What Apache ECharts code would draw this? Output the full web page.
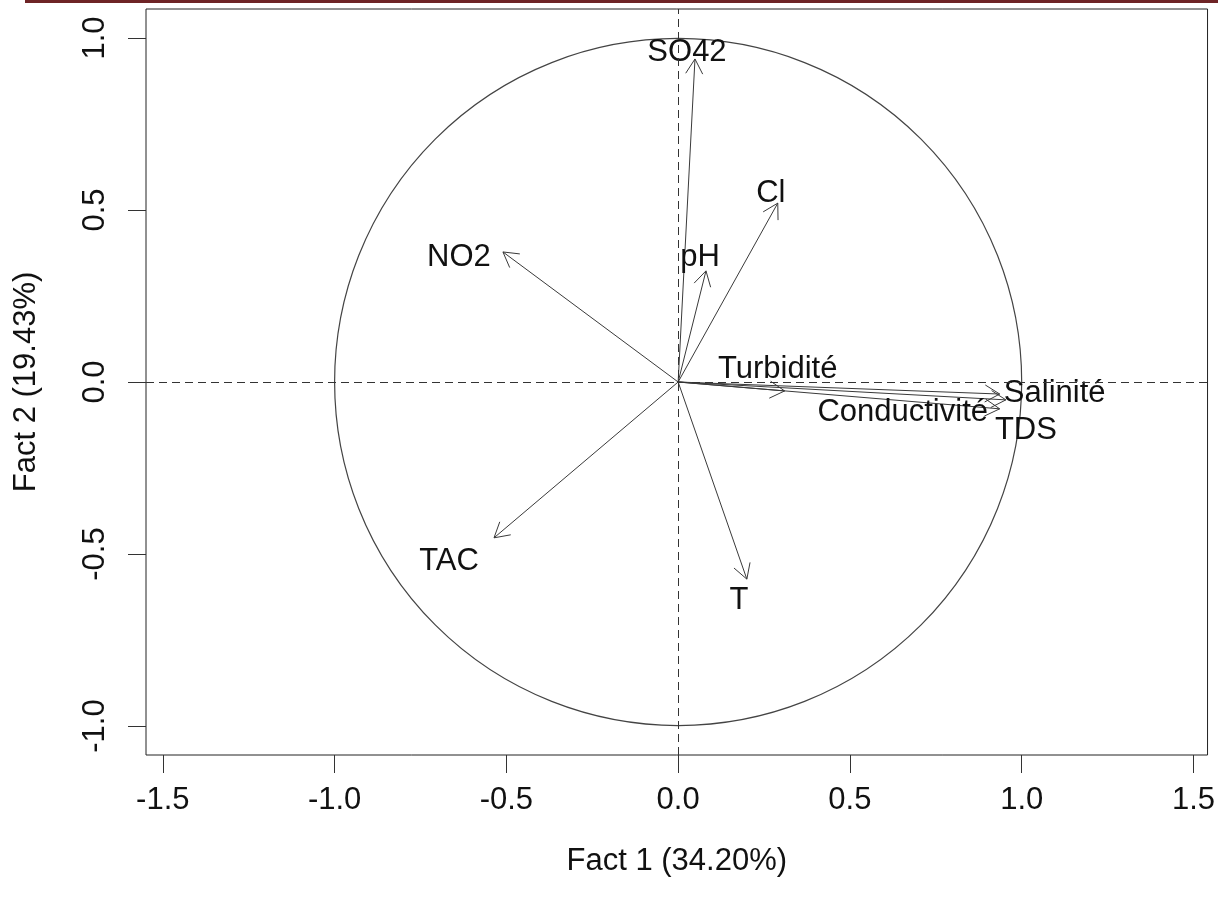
<!DOCTYPE html>
<html>
<head>
<meta charset="utf-8">
<title>Cercle des corrélations</title>
<script src="https://cdn.jsdelivr.net/npm/echarts@6/dist/echarts.min.js"></script>
<style>
  html, body { margin: 0; padding: 0; background: #fff; }
  #chart { width: 1218px; height: 908px; }
</style>
</head>
<body>
<div id="chart"></div>
<script>
// Variable loadings on the first two factors
const variables = ['SO42', 'Cl', 'pH', 'NO2', 'Turbidité', 'Salinité', 'TDS', 'Conductivité', 'TAC', 'T'];
const fact1 = [0.049, 0.290, 0.081, -0.510, 0.310, 0.936, 0.954, 0.936, -0.536, 0.200];
const fact2 = [0.939, 0.520, 0.323, 0.378, -0.026, -0.035, -0.052, -0.078, -0.453, -0.573];

// Tick positions on both axes
const xTicks = [-1.5, -1.0, -0.5, 0.0, 0.5, 1.0, 1.5];
const yTicks = [-1.0, -0.5, 0.0, 0.5, 1.0];

// Axis titles
const xTitle = 'Fact 1 (34.20%)';
const yTitle = 'Fact 2 (19.43%)';

// Label offsets from each arrow tip, in pixels
const labelOffsets = [
  [-8, -7], [-7, -10], [-6, -13], [-44, 5], [-7, -21],
  [55, -1], [20, 31], [-97, 4], [-45, 24], [-8, 21]
];

const FONT = '"Liberation Sans", Arial, Helvetica, sans-serif';
const FONT_SIZE = 31;
const INK = '#111';
const LINE = '#3a3a3a';

const chart = echarts.init(document.getElementById('chart'), null, { renderer: 'canvas' });

const arrowData = variables.map((name, i) => [fact1[i], fact2[i], i]);

function renderArrow(params, api) {
  const i = api.value(2);
  const o = api.coord([0, 0]);
  const p = api.coord([api.value(0), api.value(1)]);
  const ang = Math.atan2(p[1] - o[1], p[0] - o[0]);
  const headLen = 17;
  const spread = Math.PI / 6;
  const h1 = [p[0] - headLen * Math.cos(ang - spread), p[1] - headLen * Math.sin(ang - spread)];
  const h2 = [p[0] - headLen * Math.cos(ang + spread), p[1] - headLen * Math.sin(ang + spread)];
  const off = labelOffsets[i];
  return {
    type: 'group',
    children: [
      {
        type: 'line',
        shape: { x1: o[0], y1: o[1], x2: p[0], y2: p[1] },
        style: { stroke: LINE, lineWidth: 1 }
      },
      {
        type: 'polyline',
        shape: { points: [h1, p, h2] },
        style: { stroke: LINE, lineWidth: 1, fill: null }
      },
      {
        type: 'text',
        style: {
          x: p[0] + off[0],
          y: p[1] + off[1],
          text: variables[i],
          font: FONT_SIZE + 'px ' + FONT,
          fill: INK,
          align: 'center',
          verticalAlign: 'middle',
          textAlign: 'center',
          textVerticalAlign: 'middle'
        }
      }
    ]
  };
}

function renderCircle(params, api) {
  const c = api.coord([api.value(0), api.value(1)]);
  const r = api.size([api.value(2), 0])[0];
  return {
    type: 'circle',
    shape: { cx: c[0], cy: c[1], r: r },
    style: { fill: null, stroke: '#444', lineWidth: 1.2 }
  };
}

const option = {
  animation: false,
  backgroundColor: '#fff',
  textStyle: { fontFamily: FONT },
  graphic: [
    {
      type: 'rect',
      left: 25, top: 0,
      shape: { width: 1193, height: 3 },
      style: { fill: '#6e2426' },
      silent: true
    }
  ],
  grid: {
    left: 146, right: 6, top: 9, bottom: 153,
    show: true,
    borderColor: '#222',
    borderWidth: 1,
    backgroundColor: 'transparent'
  },
  xAxis: {
    type: 'value',
    min: -1.549, max: 1.541,
    axisLine: { show: false, onZero: false },
    splitLine: { show: false },
    axisTick: {
      show: true, inside: false, length: 18,
      customValues: xTicks,
      lineStyle: { color: '#333', width: 1 }
    },
    axisLabel: {
      customValues: xTicks,
      formatter: v => v.toFixed(1),
      fontSize: FONT_SIZE, color: INK, fontFamily: FONT,
      margin: 30
    },
    name: xTitle,
    nameLocation: 'middle',
    nameGap: 91,
    nameTextStyle: { fontSize: FONT_SIZE, color: INK, fontFamily: FONT }
  },
  yAxis: {
    type: 'value',
    min: -1.0843, max: 1.0843,
    axisLine: { show: false, onZero: false },
    splitLine: { show: false },
    axisTick: {
      show: true, inside: false, length: 18,
      customValues: yTicks,
      lineStyle: { color: '#333', width: 1 }
    },
    axisLabel: {
      customValues: yTicks,
      formatter: v => v.toFixed(1),
      rotate: 90,
      fontSize: FONT_SIZE, color: INK, fontFamily: FONT,
      margin: 35
    },
    name: yTitle,
    nameLocation: 'middle',
    nameRotate: 90,
    nameGap: 104,
    nameTextStyle: { fontSize: FONT_SIZE, color: INK, fontFamily: FONT }
  },
  series: [
    {
      type: 'line',
      data: [[0, 0]],
      symbol: 'none',
      lineStyle: { opacity: 0 },
      silent: true,
      markLine: {
        silent: true,
        symbol: 'none',
        label: { show: false },
        lineStyle: { type: [8, 5], color: '#333', width: 1 },
        data: [{ xAxis: 0 }, { yAxis: 0 }]
      }
    },
    {
      type: 'custom',
      renderItem: renderCircle,
      data: [[0, 0, 1]],
      silent: true,
      clip: false
    },
    {
      type: 'custom',
      renderItem: renderArrow,
      data: arrowData,
      silent: true,
      clip: false
    }
  ]
};

chart.setOption(option);
</script>
</body>
</html>
